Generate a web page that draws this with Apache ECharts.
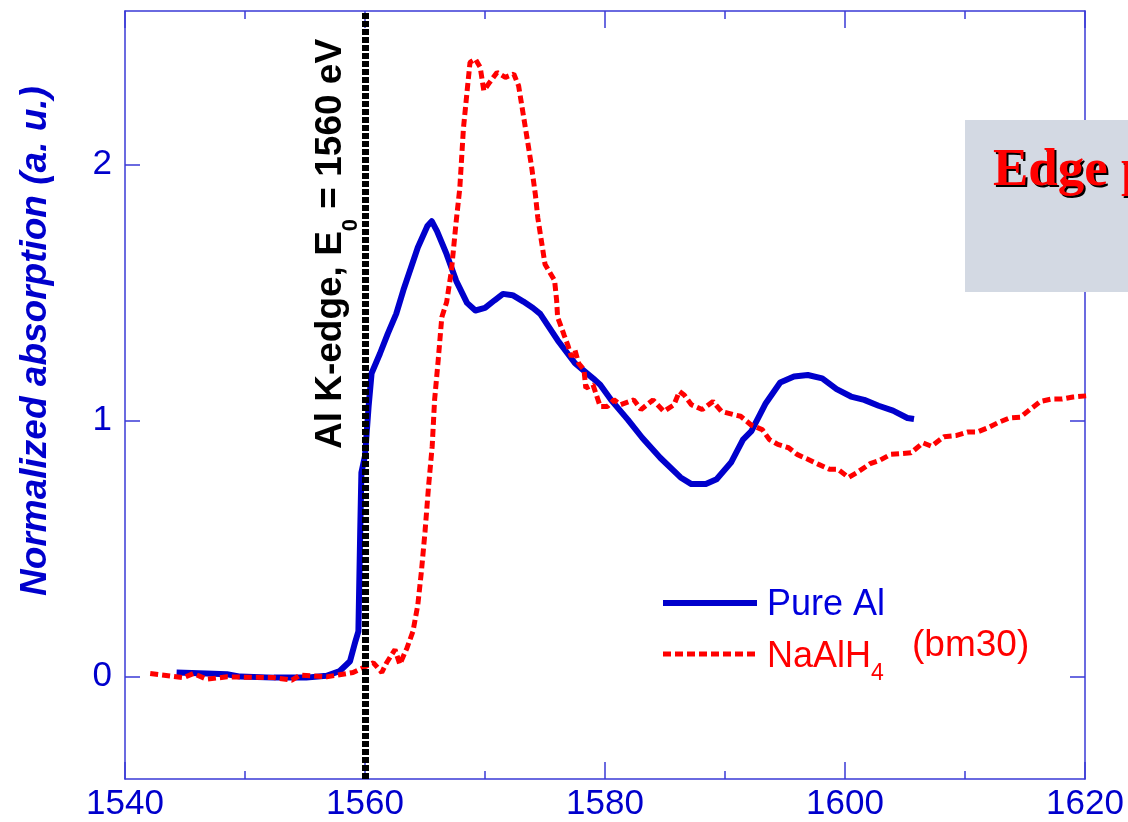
<!DOCTYPE html>
<html>
<head>
<meta charset="utf-8">
<script src="https://cdn.jsdelivr.net/npm/echarts@6/dist/echarts.min.js"></script>
<style>
  html, body { margin: 0; padding: 0; background: #ffffff; }
  #chart { width: 1128px; height: 822px; }
</style>
</head>
<body>
<div id="chart"></div>
<script>
// Photon energy (eV) / normalized absorption pairs for each sample
const pureAl = [
  [1544.3, 0.016], [1546.8, 0.012], [1548.5, 0.009], [1549.6, 0.0], [1552.4, -0.004],
  [1555.1, -0.004], [1556.8, 0.003], [1557.9, 0.022], [1558.75, 0.06], [1559.2, 0.138],
  [1559.45, 0.177], [1559.6, 0.565], [1559.7, 0.797], [1560.0, 0.862], [1560.3, 1.055],
  [1560.55, 1.185], [1561.25, 1.262], [1561.9, 1.34], [1562.6, 1.417], [1563.2, 1.51],
  [1564.4, 1.676], [1565.2, 1.76], [1565.56, 1.779], [1566.0, 1.74], [1566.8, 1.65],
  [1567.6, 1.546], [1568.5, 1.46], [1569.2, 1.43], [1570.0, 1.44], [1570.8, 1.47],
  [1571.5, 1.495], [1572.3, 1.49], [1573.2, 1.465], [1574.0, 1.44], [1574.6, 1.417],
  [1576.05, 1.314], [1577.5, 1.224], [1579.0, 1.165], [1579.6, 1.14], [1580.5, 1.081],
  [1581.9, 1.004], [1583.1, 0.933], [1584.6, 0.855], [1586.3, 0.778], [1587.2, 0.752],
  [1588.4, 0.752], [1589.3, 0.771], [1590.5, 0.836], [1591.5, 0.926], [1592.2, 0.959],
  [1593.4, 1.068], [1594.6, 1.149], [1595.75, 1.172], [1596.9, 1.178], [1598.1, 1.165],
  [1599.3, 1.123], [1600.5, 1.094], [1601.6, 1.081], [1602.8, 1.058], [1604.0, 1.039],
  [1605.2, 1.010], [1605.75, 1.006]
];

const naAlH4 = [
  [1542.1, 0.012], [1544.9, -0.004], [1545.7, 0.012], [1546.8, -0.01], [1548.5, -0.001],
  [1552.4, -0.004], [1553.9, -0.014], [1554.6, 0.006], [1556.8, -0.001], [1559.0, 0.016],
  [1560.7, 0.054], [1561.4, 0.016], [1561.8, 0.054], [1562.5, 0.106], [1562.9, 0.048],
  [1563.5, 0.112], [1564.0, 0.177], [1564.4, 0.28], [1564.7, 0.41], [1565.0, 0.565],
  [1565.3, 0.745], [1565.6, 0.9], [1565.8, 1.081], [1566.1, 1.236], [1566.4, 1.404],
  [1566.8, 1.462], [1567.2, 1.585], [1567.6, 1.779], [1567.9, 1.908], [1568.2, 2.14],
  [1568.5, 2.283], [1568.75, 2.399], [1569.2, 2.412], [1569.6, 2.38], [1569.9, 2.289],
  [1570.4, 2.322], [1571.0, 2.36], [1571.7, 2.341], [1572.4, 2.354], [1572.8, 2.308],
  [1573.2, 2.192], [1573.6, 2.076], [1573.9, 1.986], [1574.2, 1.882], [1574.4, 1.792],
  [1574.7, 1.702], [1575.0, 1.611], [1575.4, 1.579], [1575.8, 1.547], [1575.97, 1.469],
  [1576.05, 1.404], [1576.35, 1.366], [1576.6, 1.333], [1576.9, 1.295], [1577.2, 1.249],
  [1577.5, 1.275], [1577.8, 1.224], [1578.25, 1.198], [1578.4, 1.127], [1579.0, 1.14],
  [1579.6, 1.055], [1580.2, 1.055], [1580.75, 1.081], [1581.3, 1.062], [1582.4, 1.081],
  [1583.0, 1.043], [1584.0, 1.081], [1584.9, 1.036], [1585.75, 1.062], [1586.2, 1.114],
  [1586.6, 1.1], [1587.2, 1.062], [1588.1, 1.043], [1589.0, 1.075], [1589.7, 1.036],
  [1590.75, 1.023], [1591.3, 1.017], [1592.2, 0.982], [1593.1, 0.965], [1593.7, 0.926],
  [1594.4, 0.907], [1595.3, 0.894], [1596.0, 0.868], [1596.9, 0.849], [1597.8, 0.829],
  [1598.7, 0.81], [1599.4, 0.81], [1600.3, 0.778], [1601.0, 0.797], [1602.1, 0.832],
  [1602.9, 0.845], [1603.8, 0.868], [1605.5, 0.874], [1606.5, 0.913], [1607.2, 0.9],
  [1608.25, 0.937], [1609.3, 0.942], [1610.2, 0.955], [1611.0, 0.955], [1611.9, 0.972],
  [1612.8, 0.993], [1613.7, 1.01], [1614.6, 1.013], [1615.4, 1.043], [1616.3, 1.075],
  [1617.2, 1.084], [1618.1, 1.084], [1619.0, 1.092], [1620.2, 1.097]
];

const energyRange = [1540, 1620];
const energyStep = 20;
const absorptionRange = [-0.4, 2.6];
const absorptionTicks = [0, 1, 2];
const edgeEnergy = 1560;

const FONT = '"Liberation Sans", Arial, sans-serif';
const AXIS_BLUE = '#3a3ad6';
const LABEL_BLUE = '#0000cc';

function energyAxis(position, showLabels) {
  return {
    type: 'value',
    position: position,
    min: energyRange[0],
    max: energyRange[1],
    interval: energyStep,
    axisLine: { show: true, onZero: false, lineStyle: { color: AXIS_BLUE, width: 1.5 } },
    axisTick: { show: true, inside: true, length: 17, lineStyle: { color: AXIS_BLUE, width: 1.5 } },
    minorTick: { show: true, splitNumber: 2, length: 8, lineStyle: { color: AXIS_BLUE, width: 1.5 } },
    axisLabel: {
      show: showLabels, color: LABEL_BLUE, fontFamily: FONT, fontSize: 35, margin: 8,
      formatter: function (v) { return String(v); }
    },
    splitLine: { show: false }
  };
}

function absorptionAxis(position, showLabels) {
  return {
    type: 'value',
    position: position,
    min: absorptionRange[0],
    max: absorptionRange[1],
    axisLine: { show: true, onZero: false, lineStyle: { color: AXIS_BLUE, width: 1.5 } },
    axisTick: {
      show: true, inside: true, length: 15, customValues: absorptionTicks,
      lineStyle: { color: AXIS_BLUE, width: 1.5 }
    },
    axisLabel: {
      show: showLabels, customValues: absorptionTicks, color: LABEL_BLUE,
      fontFamily: FONT, fontSize: 35, margin: 13,
      formatter: function (v) { return String(v); }
    },
    splitLine: { show: false }
  };
}

const chart = echarts.init(document.getElementById('chart'), null, { renderer: 'canvas' });

chart.setOption({
  animation: false,
  backgroundColor: '#ffffff',
  grid: { left: 125, right: 43, top: 11, bottom: 41 },
  xAxis: [energyAxis('bottom', true), energyAxis('top', false)],
  yAxis: [absorptionAxis('left', true), absorptionAxis('right', false)],
  series: [
    {
      name: 'Pure Al',
      type: 'line',
      data: pureAl,
      symbol: 'none',
      z: 2,
      lineStyle: { color: '#0000cc', width: 6, join: 'round' },
      markLine: {
        silent: true,
        symbol: ['none', 'none'],
        label: { show: false },
        z: 6,
        lineStyle: { color: '#000000', width: 7, type: [6, 2] },
        data: [{ xAxis: edgeEnergy }]
      }
    },
    {
      name: 'NaAlH4',
      type: 'line',
      data: naAlH4,
      symbol: 'none',
      z: 3,
      lineStyle: { color: '#ff0000', width: 5, type: [8, 4] }
    }
  ],
  graphic: [
    // y-axis title
    {
      type: 'text',
      x: 36, y: 341,
      rotation: Math.PI / 2,
      z: 20,
      style: {
        text: 'Normalized absorption (a. u.)',
        align: 'center',
        verticalAlign: 'middle',
        fill: LABEL_BLUE,
        fontFamily: FONT, fontSize: 37, fontWeight: 'bold', fontStyle: 'italic'
      }
    },
    // edge annotation along the dashed line
    {
      type: 'text',
      x: 337, y: 244,
      rotation: Math.PI / 2,
      z: 20,
      style: {
        text: '{m|Al K-edge, E}{s|0}{m| = 1560 eV}',
        align: 'center',
        verticalAlign: 'middle',
        fill: '#000000',
        rich: {
          m: { fontFamily: FONT, fontSize: 37, fontWeight: 'bold', lineHeight: 50, verticalAlign: 'top', fill: '#000' },
          s: { fontFamily: FONT, fontSize: 22, fontWeight: 'bold', lineHeight: 20, verticalAlign: 'bottom', fill: '#000' }
        }
      }
    },
    // legend
    {
      type: 'line', z: 20,
      shape: { x1: 663, y1: 603, x2: 757, y2: 603 },
      style: { stroke: '#0000cc', lineWidth: 6 }
    },
    {
      type: 'text', x: 767, y: 605, z: 20,
      style: { text: 'Pure Al', fill: '#0000dd', fontFamily: FONT, fontSize: 36, verticalAlign: 'middle' }
    },
    {
      type: 'line', z: 20,
      shape: { x1: 663, y1: 654, x2: 755, y2: 654 },
      style: { stroke: '#ff0000', lineWidth: 5, lineDash: [8, 4] }
    },
    {
      type: 'text', x: 767, y: 662, z: 20,
      style: {
        text: '{m|NaAlH}{s|4}',
        verticalAlign: 'middle',
        rich: {
          m: { fontFamily: FONT, fontSize: 36, lineHeight: 46, verticalAlign: 'top', fill: '#ff0000' },
          s: { fontFamily: FONT, fontSize: 23, lineHeight: 22, verticalAlign: 'bottom', fill: '#ff0000' }
        }
      }
    },
    {
      type: 'text', x: 912, y: 646, z: 20,
      style: { text: '(bm30)', fill: '#ff0000', fontFamily: FONT, fontSize: 37, verticalAlign: 'middle' }
    },
    // side note panel
    {
      type: 'rect', z: 30,
      shape: { x: 965, y: 120, width: 200, height: 172 },
      style: { fill: '#d3d9e3' }
    },
    {
      type: 'text', x: 995, y: 200, z: 31,
      style: {
        text: 'Edge position', fill: '#000000',
        fontFamily: '"Liberation Serif", "Times New Roman", serif',
        fontSize: 53, fontWeight: 'bold', verticalAlign: 'bottom'
      }
    },
    {
      type: 'text', x: 993, y: 198, z: 32,
      style: {
        text: 'Edge position', fill: '#ff0000',
        fontFamily: '"Liberation Serif", "Times New Roman", serif',
        fontSize: 53, fontWeight: 'bold', verticalAlign: 'bottom'
      }
    }
  ]
});
</script>
</body>
</html>
